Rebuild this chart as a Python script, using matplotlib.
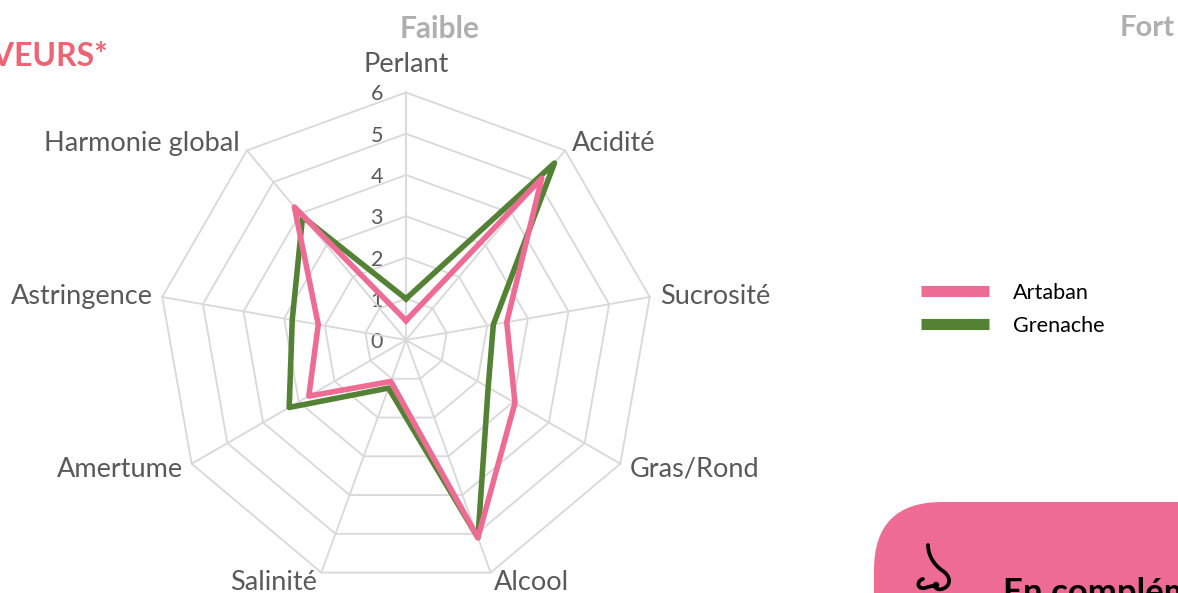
import numpy as np
import matplotlib
matplotlib.use("Agg")
import matplotlib.pyplot as plt
from matplotlib.patches import FancyBboxPatch, PathPatch, Circle
from matplotlib.path import Path
from matplotlib.lines import Line2D

plt.rcParams['font.family'] = ['Lato', 'DejaVu Sans']

categories = ["Perlant", "Acidité", "Sucrosité", "Gras/Rond", "Alcool",
              "Salinité", "Amertume", "Astringence", "Harmonie global"]
artaban = [0.47, 5.12, 2.48, 3.05, 5.1, 1.07, 2.72, 2.16, 4.21]
grenache = [1.0, 5.6, 2.15, 2.3, 5.1, 1.24, 3.27, 2.8, 3.9]
r_ticks = [0, 1, 2, 3, 4, 5, 6]
series_names = ["Artaban", "Grenache"]

W, H = 1178, 593
PINK = "#EE6C94"
GREEN = "#548235"
GRID = "#D9D9D9"
TXT = "#595959"

fig = plt.figure(figsize=(W / 100, H / 100), dpi=100, facecolor="white")

# Page layer in pixel coordinates
bg = fig.add_axes([0, 0, 1, 1])
bg.set_xlim(0, W)
bg.set_ylim(H, 0)
bg.axis("off")

# Radar
cx, cy, R = 406, 340, 247.5
ax = fig.add_axes([(cx - R) / W, 1 - (cy + R) / H, 2 * R / W, 2 * R / H],
                  projection="polar", facecolor="none")
ax.set_theta_zero_location("N")
ax.set_theta_direction(-1)
ax.set_ylim(0, 6)
ax.axis("off")

n = len(categories)
theta = 2 * np.pi * np.arange(n) / n
theta_c = np.append(theta, theta[0])

for r in r_ticks[1:]:
    ax.plot(theta_c, [r] * (n + 1), color=GRID, lw=1.35, zorder=1, clip_on=False)
for t in theta:
    ax.plot([t, t], [0, r_ticks[-1]], color=GRID, lw=1.35, zorder=1, clip_on=False)

for vals, col, z in ((grenache, GREEN, 3), (artaban, PINK, 4)):
    ax.plot(theta_c, vals + vals[:1], color=col, lw=4.0, zorder=z,
            solid_joinstyle="round", clip_on=False)

for r in r_ticks:
    bg.text(cx - 23, cy - r * R / 6, str(r), ha="right", va="center_baseline",
            fontsize=15.5, color=TXT)

label_pos = [(406, 62, "center"), (572, 141, "left"), (660, 294, "left"),
             (630, 467, "left"), (494, 580, "left"), (317, 580, "right"),
             (183, 467, "right"), (153, 294, "right"), (240, 141, "right")]
for c, (x, y, ha) in zip(categories, label_pos):
    bg.text(x, y, c, ha=ha, va="center_baseline", fontsize=19.5, color=TXT)

# Headers
bg.text(439.5, 27, "Faible", ha="center", va="center_baseline", fontsize=21.5,
        fontweight="bold", color="#AFAFAF")
bg.text(1175, 25.5, "Fort", ha="right", va="center_baseline", fontsize=21,
        fontweight="bold", color="#AFAFAF")
bg.text(108, 54, "SAVEURS*", ha="right", va="center_baseline", fontsize=23,
        fontweight="bold", color="#EF6472")

# Legend
handles = [Line2D([], [], color=PINK, lw=8, solid_capstyle="butt"),
           Line2D([], [], color=GREEN, lw=8, solid_capstyle="butt")]
fig.legend(handles, series_names, loc="upper left",
           bbox_to_anchor=(921 / W, 1 - 283 / H), borderaxespad=0, borderpad=0,
           frameon=False, fontsize=15.6, handlelength=3.14,
           handletextpad=1.11, labelspacing=0.58, labelcolor="black")

# Callout
bg.add_patch(FancyBboxPatch((874 + 70, 502 + 70), 600, 200,
                            boxstyle="round,pad=70,rounding_size=68",
                            fc=PINK, ec="none", zorder=1))
bg.text(1003, 603, "En complément", ha="left", va="baseline", fontsize=25,
        fontweight="bold", color="black", zorder=3, clip_on=False)
nose = Path([(928, 545), (928, 556), (935, 566), (943, 571),
             (950, 576), (951, 583), (946, 587),
             (942, 590), (938, 590), (936, 588),
             (933, 584), (929, 587), (925, 588),
             (920, 589), (917, 586), (919, 582), (920, 580), (922, 579), (923, 579)],
            [Path.MOVETO] + [Path.CURVE4] * 18)
bg.add_patch(PathPatch(nose, fc="none", ec="black", lw=2.7, capstyle="round", zorder=3))
bg.add_patch(Circle((936, 585), 3.2, fc="black", ec="none", zorder=3))

fig.savefig("out.png", dpi=100, facecolor="white")
